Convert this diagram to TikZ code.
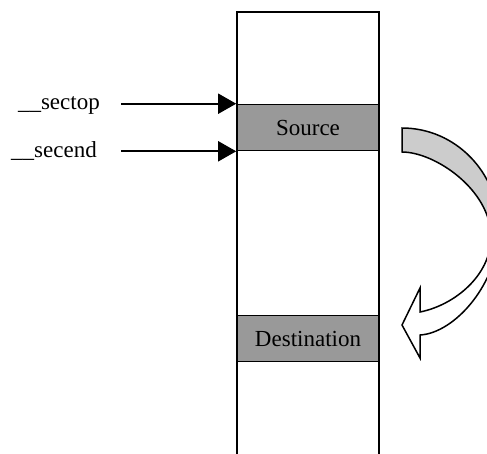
\documentclass[tikz,border=0pt]{standalone}
\usepackage{fontspec}
\setmainfont{Liberation Serif}
\usetikzlibrary{arrows.meta}

% grey at the top of the bent arrow, fading to white below its middle
\pgfdeclareverticalshading{bendfade}{100bp}{%
  color(0bp)=(white); color(49bp)=(white);
  color(56bp)=(gray!40); color(100bp)=(gray!40)}

\tikzset{
  wall/.style={line width=1.6pt, line join=miter},
  cell/.style={draw, line width=1.6pt, fill=black!40, minimum width=142pt,
    minimum height=46pt, inner sep=0pt, font=\fontsize{23}{27}\selectfont},
  lbl/.style={inner sep=0pt, font=\fontsize{23}{27}\selectfont},
  ptr/.style={line width=1.8pt, -{Triangle[length=18pt,width=20pt]}},
  bentarrow/.style={draw, line width=1.5pt, line join=miter, shading=bendfade},
}

\begin{document}
\begin{tikzpicture}[x=1pt, y=-1pt]
  \clip (0,0) rectangle (487,453);

  % memory column, open at the bottom
  \draw[wall] (237,470) -- (237,12) -- (379,12) -- (379,470);

  \node[cell] (src) at (308,127.5) {Source};
  \node[cell] (dst) at (308,338.5) {Destination};

  \node[lbl, anchor=base east] (lbltop) at (100,109) {\_\_sectop};
  \node[lbl, anchor=base east] (lblend) at (97,157) {\_\_secend};

  \draw[ptr, shorten <=21pt] (lbltop.east |- src.north west) -- (src.north west);
  \draw[ptr, shorten <=24pt] (lblend.east |- src.south west) -- (src.south west);

  % bent arrow from the source block down to the destination block
  \path[bentarrow] (402,128)
    .. controls (455.6,128) and (499,172.8) .. (499,228)
    .. controls (499,283) and (455,333) .. (420,335)
    -- (420,358) -- (402,325) -- (420,288) -- (420,312)
    .. controls (455,305) and (491,275) .. (491,237)
    .. controls (491,190) and (435,152) .. (402,152)
    -- cycle;
\end{tikzpicture}
\end{document}
